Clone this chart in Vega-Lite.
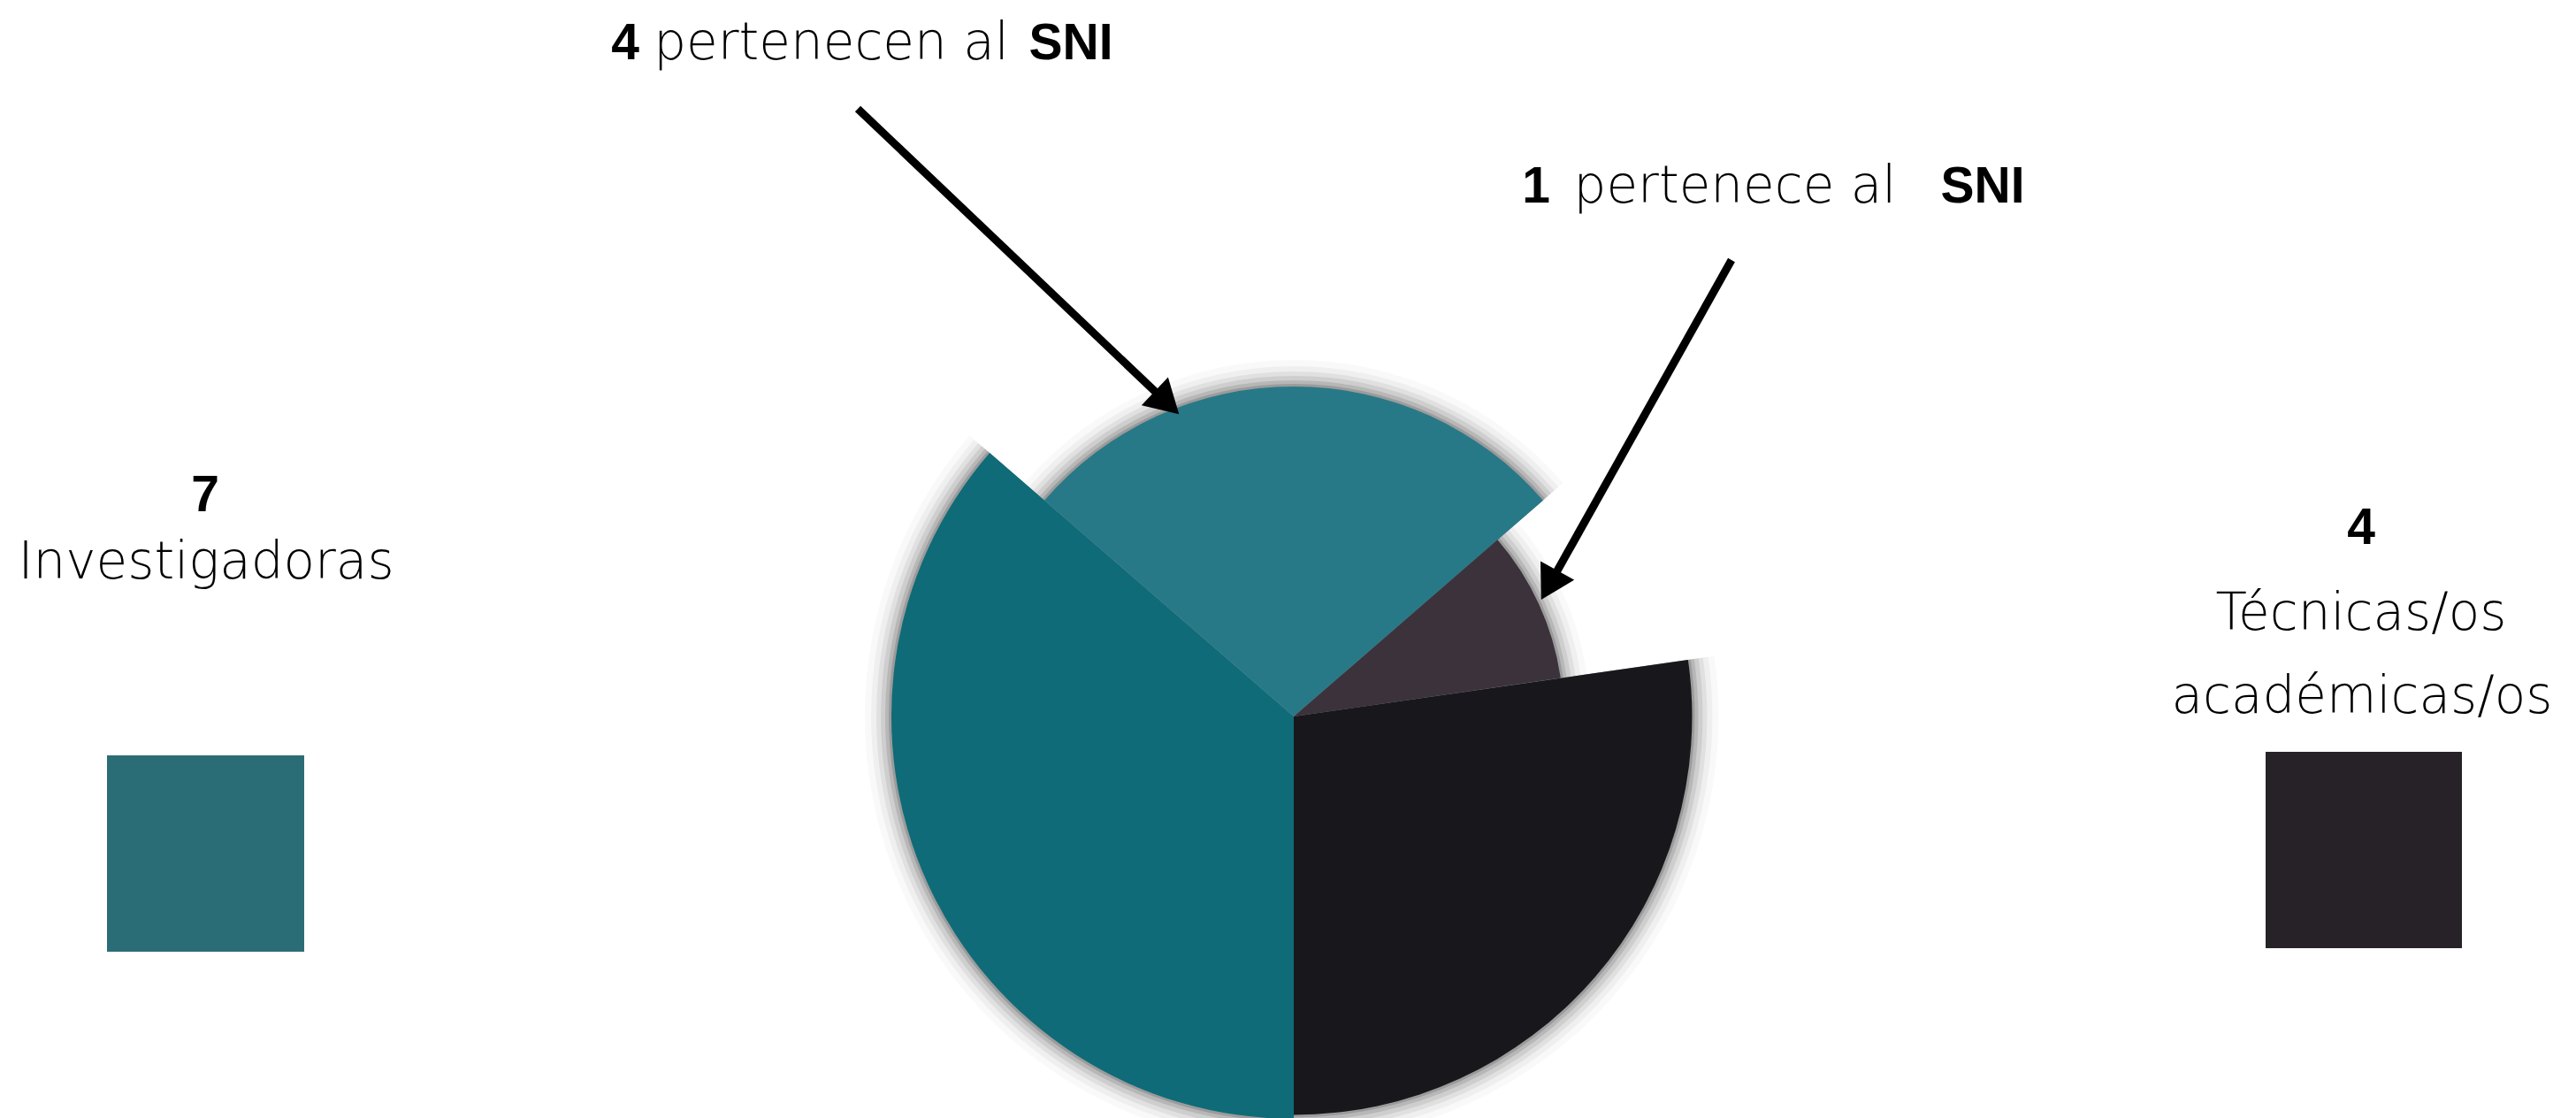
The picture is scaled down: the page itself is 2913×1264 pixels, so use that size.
{
  "$schema": "https://vega.github.io/schema/vega-lite/v6.json",
  "width": 2913,
  "height": 1264,
  "autosize": "none",
  "padding": 0,
  "background": "white",
  "config": {"view": {"stroke": null}},
  "resolve": {"scale": {"color": "independent"}},
  "datasets": {
    "sectores": [
      {"grupo": "Investigadoras", "n": 4, "r": 100, "orden": 1, "cx": 1463, "cy": 810},
      {"grupo": "Investigadoras SNI", "n": 3, "r": 82, "orden": 2, "cx": 1463, "cy": 810},
      {"grupo": "Técnicas/os SNI", "n": 1, "r": 67, "orden": 3, "cx": 1463, "cy": 810},
      {"grupo": "Técnicas/os", "n": 3, "r": 99, "orden": 4, "cx": 1463, "cy": 810}
    ],
    "leyenda": [
      {"categoria": "Investigadoras", "x1": 121, "x2": 344, "y1": 854, "y2": 1076},
      {"categoria": "Técnicas/os", "x1": 2562, "x2": 2784, "y1": 850, "y2": 1072}
    ],
    "flechas": [
      {"destino": "Investigadoras SNI", "x0": 970, "y0": 123, "x1": 1315, "y1": 451, "angulo": 133.5},
      {"destino": "Técnicas/os SNI", "x0": 1958, "y0": 294, "x1": 1755, "y1": 656, "angulo": 209}
    ],
    "textos": [
      {"texto": "4", "tipo": "cifra", "x": 707, "y": 67},
      {"texto": "pertenecen al", "tipo": "etiqueta", "x": 940, "y": 67},
      {"texto": "SNI", "tipo": "cifra", "x": 1211, "y": 67},
      {"texto": "1", "tipo": "cifra", "x": 1737, "y": 229},
      {"texto": "pertenece al", "tipo": "etiqueta", "x": 1962, "y": 229},
      {"texto": "SNI", "tipo": "cifra", "x": 2242, "y": 229},
      {"texto": "7", "tipo": "cifra", "x": 232, "y": 578},
      {"texto": "Investigadoras", "tipo": "etiqueta", "x": 233, "y": 654},
      {"texto": "4", "tipo": "cifra", "x": 2670, "y": 615},
      {"texto": "Técnicas/os", "tipo": "etiqueta", "x": 2670, "y": 712},
      {"texto": "académicas/os", "tipo": "etiqueta", "x": 2671, "y": 806}
    ]
  },
  "layer": [
    {
      "data": {"name": "sectores"},
      "transform": [{"stack": "n", "groupby": [], "sort": [{"field": "orden"}], "as": ["t0", "t1"]}],
      "layer": [
        {"mark": {"type": "arc", "radiusOffset": 30, "color": "#000000", "opacity": 0.025}},
        {"mark": {"type": "arc", "radiusOffset": 23, "color": "#000000", "opacity": 0.04}},
        {"mark": {"type": "arc", "radiusOffset": 17, "color": "#000000", "opacity": 0.06}},
        {"mark": {"type": "arc", "radiusOffset": 12, "color": "#000000", "opacity": 0.08}},
        {"mark": {"type": "arc", "radiusOffset": 7, "color": "#000000", "opacity": 0.11}},
        {"mark": {"type": "arc", "radiusOffset": 3, "color": "#000000", "opacity": 0.15}},
        {
          "mark": {"type": "arc"},
          "encoding": {
            "color": {
              "field": "grupo", "type": "nominal", "legend": null,
              "scale": {
                "domain": ["Investigadoras", "Investigadoras SNI", "Técnicas/os SNI", "Técnicas/os"],
                "range": ["#0f6b78", "#287987", "#3b323c", "#18181c"]
              }
            }
          }
        }
      ],
      "encoding": {
        "x": {"field": "cx", "type": "quantitative", "scale": {"domain": [0, 2913], "nice": false, "zero": false}, "axis": null},
        "y": {"field": "cy", "type": "quantitative", "scale": {"domain": [0, 1264], "nice": false, "zero": false, "reverse": true}, "axis": null},
        "theta": {"field": "t0", "type": "quantitative", "scale": {"domain": [0, 11], "range": [3.14159265, 9.42477796]}},
        "theta2": {"field": "t1"},
        "radius": {"field": "r", "type": "quantitative", "scale": {"type": "linear", "domain": [0, 100], "range": [0, 455], "zero": true}}
      }
    },
    {
      "data": {"name": "leyenda"},
      "mark": {"type": "rect"},
      "encoding": {
        "x": {"field": "x1", "type": "quantitative", "axis": null},
        "x2": {"field": "x2"},
        "y": {"field": "y1", "type": "quantitative", "axis": null},
        "y2": {"field": "y2"},
        "color": {
          "field": "categoria", "type": "nominal", "legend": null,
          "scale": {"domain": ["Investigadoras", "Técnicas/os"], "range": ["#2b6d76", "#272227"]}
        }
      }
    },
    {
      "data": {"name": "flechas"},
      "mark": {"type": "rule", "color": "#000000", "strokeWidth": 9},
      "encoding": {
        "x": {"field": "x0", "type": "quantitative", "axis": null},
        "y": {"field": "y0", "type": "quantitative", "axis": null},
        "x2": {"field": "x1"},
        "y2": {"field": "y1"}
      }
    },
    {
      "data": {"name": "flechas"},
      "mark": {"type": "point", "shape": "triangle", "filled": true, "color": "#000000", "size": 1900, "opacity": 1},
      "encoding": {
        "x": {"field": "x1", "type": "quantitative", "axis": null},
        "y": {"field": "y1", "type": "quantitative", "axis": null},
        "angle": {"field": "angulo", "type": "quantitative", "scale": null}
      }
    },
    {
      "data": {"name": "textos"},
      "transform": [{"filter": "datum.tipo === 'etiqueta'"}],
      "mark": {"type": "text", "font": "DejaVu Sans", "fontWeight": 200, "fontSize": 58, "color": "#000000", "align": "center", "baseline": "alphabetic"},
      "encoding": {
        "x": {"field": "x", "type": "quantitative", "axis": null},
        "y": {"field": "y", "type": "quantitative", "axis": null},
        "text": {"field": "texto"}
      }
    },
    {
      "data": {"name": "textos"},
      "transform": [{"filter": "datum.tipo === 'cifra'"}],
      "mark": {"type": "text", "font": "Liberation Sans", "fontWeight": "bold", "fontSize": 57, "color": "#000000", "align": "center", "baseline": "alphabetic"},
      "encoding": {
        "x": {"field": "x", "type": "quantitative", "axis": null},
        "y": {"field": "y", "type": "quantitative", "axis": null},
        "text": {"field": "texto"}
      }
    }
  ]
}
